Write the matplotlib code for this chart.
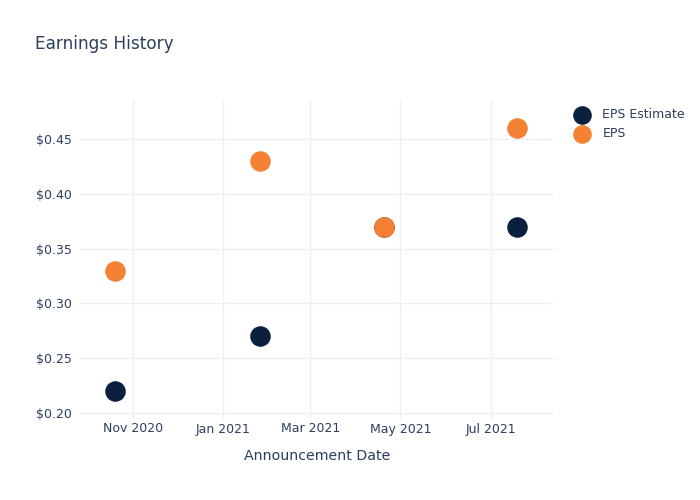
import numpy as np
import pandas as pd
import matplotlib
matplotlib.use("Agg")
import matplotlib.pyplot as plt
import matplotlib.dates as mdates
from matplotlib.ticker import FuncFormatter

dates = pd.to_datetime(["2020-10-20", "2021-01-26", "2021-04-20", "2021-07-19"])
eps_estimate = [0.22, 0.27, 0.37, 0.37]
eps_actual = [0.33, 0.43, 0.37, 0.46]

txt = "#2a3f5f"
grid = "#ebf0f8"

fig = plt.figure(figsize=(7, 5), dpi=100)
ax = fig.add_axes([80/700, 1-420/500, (554-80)/700, (420-100)/500])

ax.scatter(dates, eps_estimate, s=190, color="#0b1f3f", zorder=3, label="EPS Estimate")
ax.scatter(dates, eps_actual, s=190, color="#f58134", zorder=4, label="EPS")

ax.set_xlim(pd.Timestamp("2020-09-26"), pd.Timestamp("2021-08-13"))
ax.set_ylim(0.1936, 0.4856)
ax.set_yticks([0.20, 0.25, 0.30, 0.35, 0.40, 0.45])
ax.yaxis.set_major_formatter(FuncFormatter(lambda v, p: "$%.2f" % v))
ax.xaxis.set_major_locator(mdates.MonthLocator(bymonth=[1, 3, 5, 7, 11]))
ax.xaxis.set_major_formatter(mdates.DateFormatter("%b %Y"))

for s in ax.spines.values():
    s.set_visible(False)
ax.grid(True, color=grid, linewidth=1)
ax.set_axisbelow(True)
ax.tick_params(length=0, labelsize=9, labelcolor=txt)
ax.tick_params(axis="y", pad=6)
ax.tick_params(axis="x", pad=1.8)
ax.set_xlabel("Announcement Date", fontsize=10.2, color=txt, labelpad=10)

fig.text(35/700, 1-44/500, "Earnings History", fontsize=12.2, color=txt, va="center")

leg = ax.legend(loc="upper left", bbox_to_anchor=(1.01, 1.01), frameon=False,
                fontsize=9, labelcolor=txt, handletextpad=0.6, labelspacing=0.5,
                markerscale=0.9)

fig.savefig("out.png", dpi=100)
